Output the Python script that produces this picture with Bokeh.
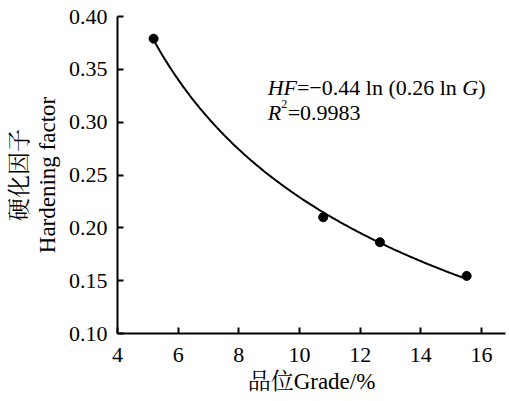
import numpy as np
from bokeh.plotting import figure
from bokeh.models import Range1d, Label, Title, FixedTicker, NumeralTickFormatter
from bokeh.embed import file_html
from bokeh.resources import INLINE

# ---- data ----
grade = [5.19, 10.78, 12.65, 15.51]
hardening = [0.379, 0.210, 0.1864, 0.1545]
x_ticks = [4, 6, 8, 10, 12, 14, 16]
y_ticks = [0.10, 0.15, 0.20, 0.25, 0.30, 0.35, 0.40]
x_label = "品位Grade/%"
y_label_cn = "硬化因子"
y_label_en = "Hardening factor"
eq_parts = [("HF", "italic"), ("=\u22120.44 ln (0.26 ln ", "normal"), ("G", "italic"), (")", "normal")]
r2_text = "=0.9983"

SERIF = "'Liberation Serif', 'Noto Serif CJK SC', 'Noto Sans CJK SC'"
FS = "22px"
LFS = "23px"

# fitted trend HF = a*ln(ln G) + c  (i.e. HF = a ln(b ln G))
lnln = np.log(np.log(np.array(grade)))
a, c = np.polyfit(lnln, hardening, 1)
gx = np.linspace(grade[0], grade[-1], 200)
gy = a * np.log(np.log(gx)) + c

p = figure(width=509, height=401, x_range=Range1d(4, 16.79), y_range=Range1d(0.10, 0.40),
           output_backend="svg", toolbar_location=None,
           min_border_left=117, min_border_right=4, min_border_top=16, min_border_bottom=68)
p.outline_line_color = None
p.grid.visible = False
p.background_fill_color = "white"
p.border_fill_color = "white"

p.line(gx, gy, line_color="black", line_width=2)
p.scatter(grade, hardening, size=9, fill_color="black", line_color="black")

for ax in (p.xaxis[0], p.yaxis[0]):
    ax.axis_line_width = 2
    ax.major_tick_line_width = 2
    ax.major_tick_in = 6
    ax.major_tick_out = 0
    ax.minor_tick_line_color = None
    ax.major_label_text_font = SERIF
    ax.major_label_text_font_size = FS
    ax.major_label_text_color = "black"
    ax.axis_label_text_font = SERIF
    ax.axis_label_text_font_size = LFS
    ax.axis_label_text_font_style = "normal"
    ax.axis_label_text_color = "black"

p.xaxis.ticker = FixedTicker(ticks=x_ticks)
p.yaxis.ticker = FixedTicker(ticks=y_ticks)
p.yaxis.formatter = NumeralTickFormatter(format="0.00")
p.xaxis.major_label_standoff = 14
p.yaxis.major_label_standoff = 10
p.xaxis.axis_label = x_label
p.yaxis.axis_label = y_label_en
p.xaxis.axis_label_standoff = 4
p.yaxis.axis_label_standoff = 6

t = Title(text=y_label_cn, align="center", text_font=SERIF, text_font_size=LFS,
          text_font_style="normal", text_color="black", standoff=0)
p.add_layout(t, "left")

# equation annotation
ex, ey = 8.95, 0.333
offsets = [0, 29.3, 194.7, 210.6]
for (txt, style), off in zip(eq_parts, offsets):
    p.add_layout(Label(x=ex, y=ey, x_offset=off, text=txt, text_font=SERIF, text_font_size=FS,
                       text_font_style=style, text_color="black", text_baseline="alphabetic"))
ry = 0.333 - 25 / 1058
p.add_layout(Label(x=ex, y=ry, text="R", text_font=SERIF, text_font_size=FS,
                   text_font_style="italic", text_color="black", text_baseline="alphabetic"))
p.add_layout(Label(x=ex, y=ry, x_offset=13.5, y_offset=8, text="2", text_font=SERIF, text_font_size="12px",
                   text_color="black", text_baseline="alphabetic"))
p.add_layout(Label(x=ex, y=ry, x_offset=20, text=r2_text, text_font=SERIF, text_font_size=FS,
                   text_color="black", text_baseline="alphabetic"))

open("out.html", "w").write(file_html(p, INLINE))
